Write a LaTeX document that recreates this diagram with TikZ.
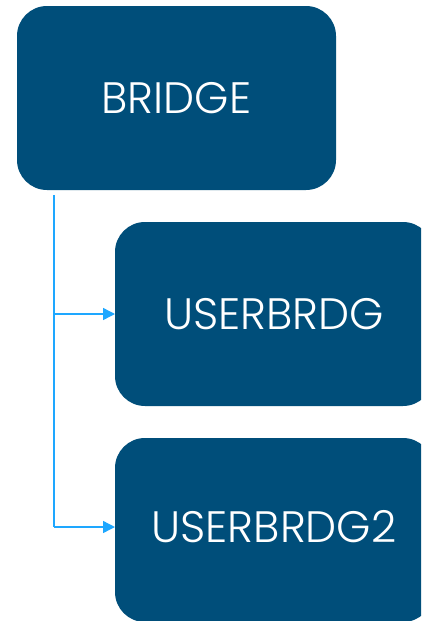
\documentclass[tikz,border=0pt]{standalone}
\usepackage{fontspec}
\setmainfont{Poppins}[UprightFont=* Light]
\usetikzlibrary{arrows.meta}
\definecolor{boxblue}{RGB}{0,78,122}
\definecolor{linkblue}{RGB}{30,167,255}
\begin{document}
\begin{tikzpicture}[x=1pt,y=-1pt,
  box/.style={fill=boxblue, rounded corners=30pt},
  label/.style={text=white, font=\fontsize{44}{46}\selectfont},
  link/.style={draw=linkblue, line width=1.4pt, -{Triangle[length=12pt,width=12pt]}}]
\useasboundingbox (0,0) rectangle (421,621);
\clip (0,0) rectangle (421,621);
\path[box] (17,6) rectangle (336,190);
\node[label] (bridge) at (176.5,98) {BRIDGE};
\path[box] (115,222) rectangle (433,406);
\node[label] (u1) at (274,314) {USERBRDG};
\path[box] (115,438) rectangle (433,622);
\node[label] (u2) at (274,527) {USERBRDG2};
\coordinate (top) at (54,195);
\coordinate (b1) at (54,314);
\coordinate (b2) at (54,527);
\coordinate (e1) at (115,314);
\coordinate (e2) at (115,527);
\draw[draw=linkblue, line width=1.4pt] (top) -- (b2);
\draw[link] (b1) -- (e1);
\draw[link] (b2) -- (e2);
\end{tikzpicture}
\end{document}
